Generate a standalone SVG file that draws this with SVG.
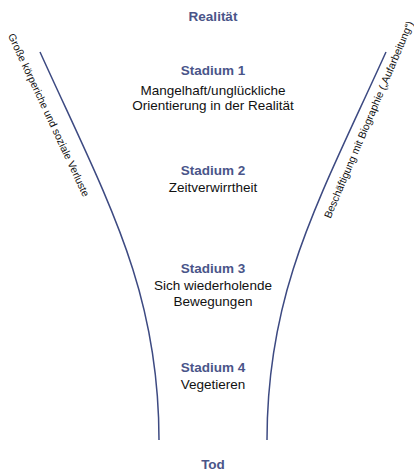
<svg xmlns="http://www.w3.org/2000/svg" width="414" height="472" viewBox="0 0 414 472">
<style>
.h{font-family:"Liberation Sans",Arial,sans-serif;font-size:13.5px;font-weight:bold;fill:#4a5589;text-anchor:middle}
.t{font-family:"Liberation Sans",Arial,sans-serif;font-size:13.5px;fill:#111;text-anchor:middle}
.s{font-family:"Liberation Sans",Arial,sans-serif;font-size:10.5px;fill:#111;text-anchor:middle}
.c{fill:none;stroke:#3d4a82;stroke-width:1.5}
</style>
<rect width="414" height="472" fill="#fff"/>
<g id="connectors">
<path class="c" d="M40,52 C108,202 159,290 159,440"/>
<path class="c" d="M386,52 C318,202 267,290 267,440"/>
</g>
<g id="realitaet"><text class="h" x="213" y="21">Realität</text></g>
<g id="stadium1">
<text class="h" x="213" y="75">Stadium 1</text>
<text class="t" x="213" y="95">Mangelhaft/unglückliche</text>
<text class="t" x="213" y="110">Orientierung in der Realität</text>
</g>
<g id="stadium2">
<text class="h" x="213" y="174.5">Stadium 2</text>
<text class="t" x="213" y="192">Zeitverwirrtheit</text>
</g>
<g id="stadium3">
<text class="h" x="213" y="272.5">Stadium 3</text>
<text class="t" x="213" y="289.5">Sich wiederholende</text>
<text class="t" x="213" y="305.5">Bewegungen</text>
</g>
<g id="stadium4">
<text class="h" x="213" y="372">Stadium 4</text>
<text class="t" x="213" y="388.5">Vegetieren</text>
</g>
<g id="tod"><text class="h" x="213" y="469">Tod</text></g>
<g id="left-label"><text class="s" transform="translate(45.5,116.5) rotate(65)">Große körperiche und soziale Verluste</text></g>
<g id="right-label"><text class="s" transform="translate(372,121) rotate(-67)">Beschäftigung mit Biographie („Aufarbeitung“)</text></g>
</svg>
